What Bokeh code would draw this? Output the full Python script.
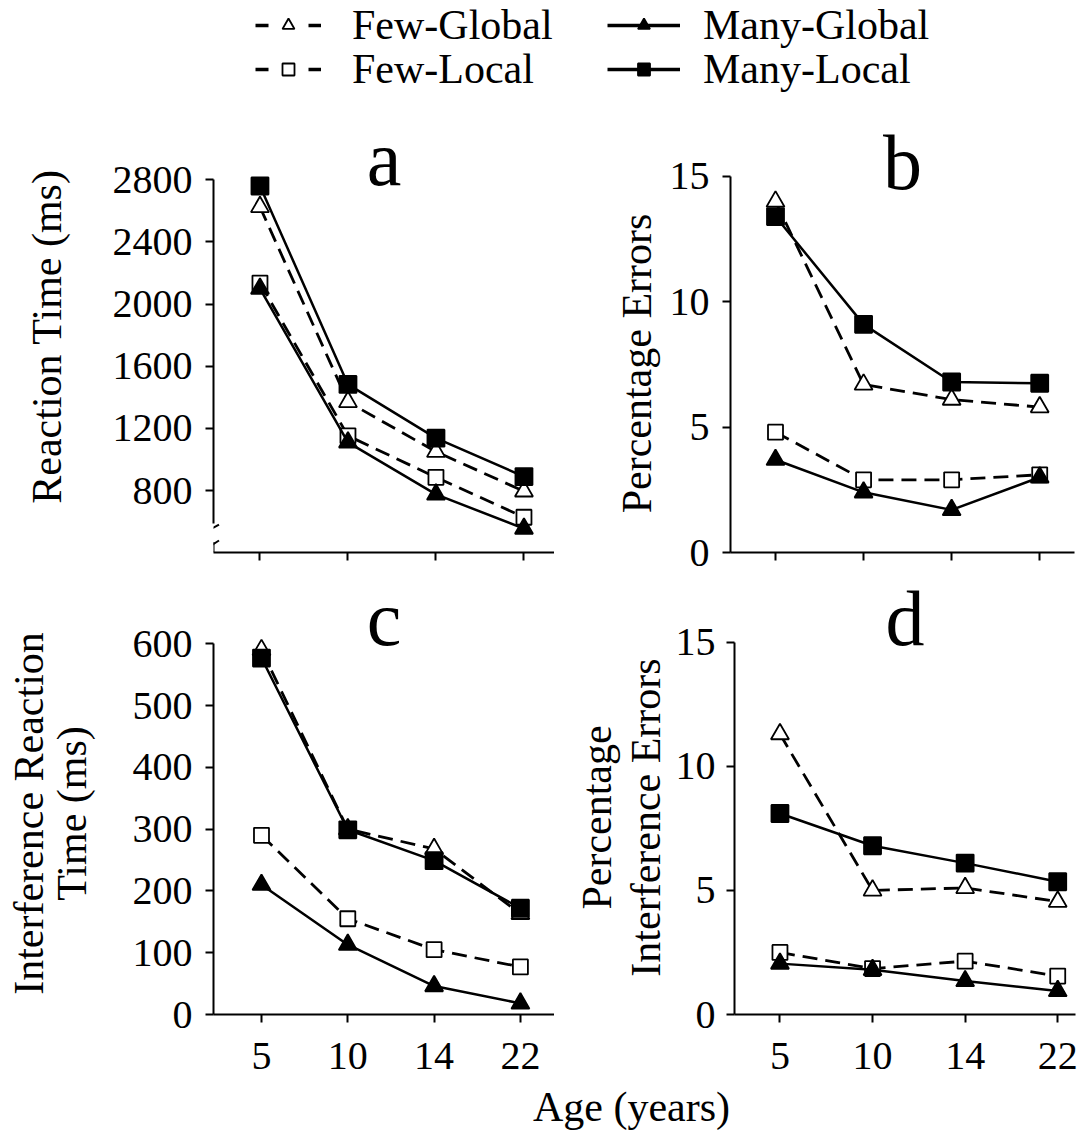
import math
from bokeh.plotting import figure
from bokeh.layouts import column, row
from bokeh.models import (Range1d, FixedTicker, Label, Legend, LegendItem,
                          ColumnDataSource, Arrow)
from bokeh.embed import file_html
from bokeh.resources import INLINE

FONT = "Liberation Serif"

# ---------------- data ----------------
ages = ["5", "10", "14", "22"]
series_names = ["Few-Global", "Few-Local", "Many-Global", "Many-Local"]

a_few_global = [2625, 1370, 1050, 795]
a_few_local = [2135, 1152, 885, 628]
a_many_global = [2100, 1110, 775, 555]
a_many_local = [2760, 1483, 1137, 890]

b_few_global = [14.0, 6.7, 6.1, 5.8]
b_few_local = [4.8, 2.9, 2.9, 3.1]
b_many_global = [3.7, 2.4, 1.7, 3.0]
b_many_local = [13.4, 9.1, 6.8, 6.75]

c_few_global = [590, 300, 268, 163]
c_few_local = [290, 155, 105, 77]
c_many_global = [210, 113, 46, 18]
c_many_local = [577, 299, 249, 172]

d_few_global = [11.3, 5.0, 5.1, 4.55]
d_few_local = [2.5, 1.85, 2.15, 1.55]
d_many_global = [2.05, 1.8, 1.35, 0.95]
d_many_local = [8.1, 6.8, 6.1, 5.35]

a_ticks = [800, 1200, 1600, 2000, 2400, 2800]
b_ticks = [0, 5, 10, 15]
c_ticks = [0, 100, 200, 300, 400, 500, 600]
d_ticks = [0, 5, 10, 15]

STYLE = {
    "Few-Global": dict(dash="15 8", marker="triangle", fill="white", lw=2.8, size=18),
    "Few-Local": dict(dash="15 8", marker="square", fill="white", lw=2.8, size=15),
    "Many-Global": dict(dash="solid", marker="triangle", fill="black", lw=2.5, size=18),
    "Many-Local": dict(dash="solid", marker="square", fill="black", lw=2.5, size=17),
}

xpos = list(range(len(ages)))

TOP = dict(fh=440, mt=4, mb=22)
BOT = dict(fh=440, mt=0, mb=68)


def blank(width, rowspec=None, height=None):
    if rowspec is not None:
        f = figure(frame_width=width, frame_height=rowspec["fh"],
                   x_range=Range1d(0, width), y_range=Range1d(0, rowspec["fh"]),
                   toolbar_location=None, output_backend="svg",
                   min_border_left=0, min_border_right=0,
                   min_border_top=rowspec["mt"], min_border_bottom=rowspec["mb"],
                   x_axis_location=None, y_axis_location=None)
    else:
        f = figure(width=width, height=height,
                   x_range=Range1d(0, width), y_range=Range1d(0, height),
                   toolbar_location=None, output_backend="svg", min_border=0,
                   x_axis_location=None, y_axis_location=None)
    f.grid.visible = False
    f.outline_line_color = None
    return f


def ylabel_fig(width, rowspec, lines):
    f = blank(width, rowspec)
    for text, x, y in lines:
        f.add_layout(Label(x=x, y=y, text=text, angle=math.pi / 2,
                           text_align="center", text_baseline="middle",
                           text_font=FONT, text_font_size="42px", text_color="black"))
    return f


def make_panel(vals, y_range, y_ticks, y_bounds, x_range, fw, rowspec, mb_left,
               mb_right, tick_standoff, letter, letter_y, show_xlabels):
    p = figure(frame_width=fw, frame_height=rowspec["fh"],
               x_range=Range1d(*x_range), y_range=Range1d(*y_range),
               toolbar_location=None, output_backend="svg",
               min_border_left=mb_left, min_border_right=mb_right,
               min_border_top=rowspec["mt"], min_border_bottom=rowspec["mb"])
    p.grid.visible = False
    p.outline_line_color = None
    p.background_fill_color = "white"
    p.border_fill_color = "white"

    for name, v in zip(series_names, vals):
        st = STYLE[name]
        src = ColumnDataSource(dict(x=xpos, y=v))
        p.line("x", "y", source=src, line_color="black", line_width=st["lw"],
               line_dash=st["dash"])
        p.scatter("x", "y", source=src, marker=st["marker"], size=st["size"],
                  fill_color=st["fill"], line_color="black", line_width=1.8)

    for ax in (p.xaxis[0], p.yaxis[0]):
        ax.axis_line_width = 2
        ax.axis_line_color = "black"
        ax.major_tick_line_width = 2
        ax.major_tick_out = 8
        ax.major_tick_in = 0
        ax.minor_tick_line_color = None
        ax.major_label_text_font = FONT
        ax.major_label_text_font_size = "40px"
        ax.major_label_text_color = "black"

    xa = p.xaxis[0]
    xa.ticker = FixedTicker(ticks=xpos)
    xa.major_label_overrides = {i: a for i, a in enumerate(ages)}
    if show_xlabels:
        xa.major_label_standoff = 20
    else:
        xa.major_label_text_font_size = "0px"
        xa.major_label_standoff = 0

    ya = p.yaxis[0]
    ya.ticker = FixedTicker(ticks=y_ticks)
    ya.bounds = y_bounds
    ya.major_label_standoff = tick_standoff

    p.add_layout(Label(x=(x_range[0] + x_range[1]) / 2, y=letter_y, text=letter,
                       text_align="center", text_baseline="middle",
                       text_font=FONT, text_font_size="78px", text_color="black"))
    return p


pa = make_panel([a_few_global, a_few_local, a_many_global, a_many_local],
                (401, 3233), a_ticks, (588, 2800), (-0.528, 3.347), 341, TOP, 113, 0, 13,
                "a", 2939, False)
pb = make_panel([b_few_global, b_few_local, b_many_global, b_many_local],
                (0, 17.55), b_ticks, (0, 15), (-0.511, 3.395), 344, TOP, 66, 3, 13,
                "b", 15.57, False)
pc = make_panel([c_few_global, c_few_local, c_many_global, c_many_local],
                (0, 712.2), c_ticks, (0, 600), (-0.556, 3.395), 341, BOT, 103, 0, 13,
                "c", 641, True)
pd = make_panel([d_few_global, d_few_local, d_many_global, d_many_local],
                (0, 17.73), d_ticks, (0, 15), (-0.491, 3.192), 341, BOT, 61, 3, 11,
                "d", 15.95, True)

# axis break marks on panel a (decoration)
xs0 = -0.528
pxx = 88.0
def vy(ypx):
    return 2800 - (ypx - 179.3) / 0.15535
for (x0, y0, x1, y1) in [(-5.5, 530, 5.5, 524), (-5.5, 547, 5.5, 540)]:
    pa.add_layout(Arrow(start=None, end=None, x_start=xs0 + x0 / pxx, y_start=vy(y0),
                        x_end=xs0 + x1 / pxx, y_end=vy(y1), line_width=2,
                        line_color="black"))
pa.add_layout(Arrow(start=None, end=None, x_start=xs0, y_start=vy(541.5),
                    x_end=xs0, y_end=401, line_width=2, line_color="black"))

# y-axis titles (separate strips so they can sit at their own height)
la = ylabel_fig(100, TOP, [("Reaction Time (ms)", 46, 216)])
lb = ylabel_fig(110, TOP, [("Percentage Errors", 82, 189)])
lc = ylabel_fig(110, BOT, [("Interference Reaction", 28, 201), ("Time (ms)", 71, 201)])
ld = ylabel_fig(118, BOT, [("Percentage", 42, 197), ("Interference Errors", 91, 197)])

# ---------------- legend strip ----------------
leg = blank(1077, height=108)
LEG_POS = {"Few-Global": (255, 59, 66, 31, "13 40"),
           "Few-Local": (255, 15, 66, 31, "13 40"),
           "Many-Global": (607, 59, 73, 23, "solid"),
           "Many-Local": (607, 15, 73, 23, "solid")}
# legend renderers reuse panel-a data; they fall outside this strip's range
leg_vals = dict(zip(series_names, [a_few_global, a_few_local, a_many_global, a_many_local]))
for name in series_names:
    st = STYLE[name]
    x, y, gw, so, dash = LEG_POS[name]
    src = ColumnDataSource(dict(x=[v - 100 for v in xpos], y=leg_vals[name]))
    lr = leg.line("x", "y", source=src, line_color="black", line_width=3.5,
                  line_dash=dash)
    sr = leg.scatter("x", "y", source=src, marker=st["marker"], size=17,
                     fill_color=st["fill"], line_color="black", line_width=1.8)
    lg = Legend(items=[LegendItem(label=name, renderers=[lr, sr])], location=(x, y),
                glyph_width=gw, glyph_height=30, label_standoff=so, padding=0,
                margin=0, spacing=0, border_line_color=None,
                background_fill_alpha=0, label_text_font=FONT,
                label_text_font_size="42px", label_text_color="black")
    leg.add_layout(lg, "center")

# ---------------- x label strip ----------------
xl = blank(1077, height=62)
xl.add_layout(Label(x=631, y=38, text="Age (years)", text_align="center",
                    text_baseline="middle", text_font=FONT,
                    text_font_size="42px", text_color="black"))

layout = column(leg, row(la, pa, lb, pb), row(lc, pc, ld, pd), xl)
open("out.html", "w").write(file_html(layout, INLINE))
